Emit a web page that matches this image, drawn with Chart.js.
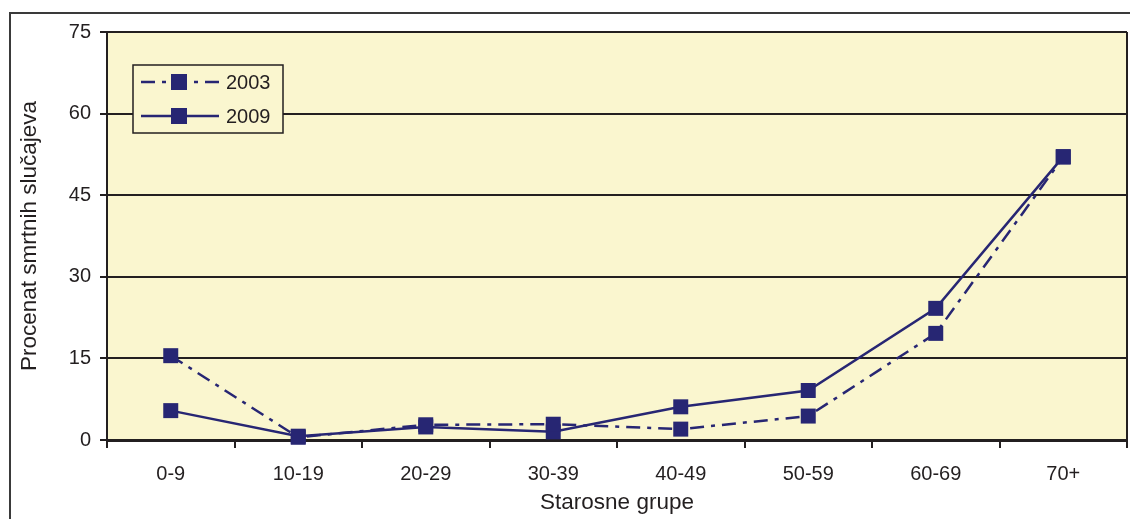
<!DOCTYPE html>
<html>
<head>
<meta charset="utf-8">
<script src="https://cdn.jsdelivr.net/npm/chart.js@4/dist/chart.umd.min.js"></script>
<style>
  html, body { margin: 0; padding: 0; background: #ffffff; }
  #wrap { width: 1130px; height: 519px; position: relative; }
</style>
</head>
<body>
<div id="wrap"><canvas id="c" width="1130" height="519"></canvas></div>
<script>
// Age groups and share of deaths (%) per survey year
const categories = ['0-9', '10-19', '20-29', '30-39', '40-49', '50-59', '60-69', '70+'];
const values2003 = [15.5, 0.5, 2.8, 2.9, 2.0, 4.4, 19.6, 52.0];
const values2009 = [5.4, 0.7, 2.4, 1.5, 6.1, 9.1, 24.2, 52.1];
const seriesNames = ['2003', '2009'];
const yTicks = [0, 15, 30, 45, 60, 75];

const INK = '#231f20';
const NAVY = '#272673';
const PANEL = '#faf6cf';
const FONT = '"Liberation Sans", Arial, sans-serif';
const DASH_2003 = [14, 7, 4, 7];

// Outer frame, panel fill and panel border
const framePlugin = {
  id: 'frame',
  beforeDraw(chart) {
    const { ctx, chartArea: a } = chart;
    ctx.save();
    ctx.fillStyle = PANEL;
    ctx.fillRect(a.left, a.top, a.right - a.left, a.bottom - a.top);
    ctx.strokeStyle = '#3a3a3a';
    ctx.lineWidth = 2;
    ctx.beginPath();
    ctx.moveTo(10, 519);
    ctx.lineTo(10, 13);
    ctx.lineTo(1130, 13);
    ctx.stroke();
    ctx.restore();
  },
  afterDatasetsDraw(chart) {
    const { ctx, chartArea: a } = chart;
    ctx.save();
    ctx.strokeStyle = INK;
    ctx.lineWidth = 2;
    ctx.beginPath();
    ctx.moveTo(a.right, a.top);
    ctx.lineTo(a.right, a.bottom);
    ctx.stroke();
    ctx.restore();
  }
};

// Boxed legend inside the panel
const legendBoxPlugin = {
  id: 'legendBox',
  afterDraw(chart) {
    const { ctx, chartArea: a } = chart;
    const x = a.left + 26, y = a.top + 33, w = 150, h = 68;
    ctx.save();
    ctx.fillStyle = PANEL;
    ctx.fillRect(x, y, w, h);
    ctx.strokeStyle = INK;
    ctx.lineWidth = 1.5;
    ctx.strokeRect(x, y, w, h);
    chart.data.datasets.forEach((ds, i) => {
      const cy = y + 17 + i * 34;
      ctx.strokeStyle = ds.borderColor;
      ctx.lineWidth = ds.borderWidth;
      ctx.setLineDash(ds.borderDash || []);
      ctx.beginPath();
      ctx.moveTo(x + 8, cy);
      ctx.lineTo(x + 86, cy);
      ctx.stroke();
      ctx.setLineDash([]);
      ctx.fillStyle = ds.pointBackgroundColor;
      ctx.fillRect(x + 38, cy - 8, 16, 16);
      ctx.fillStyle = INK;
      ctx.font = '20px ' + FONT;
      ctx.textBaseline = 'middle';
      ctx.textAlign = 'left';
      ctx.fillText(ds.label, x + 93, cy + 1);
    });
    ctx.restore();
  }
};

const makeSeries = (label, data, dash) => ({
  label,
  data,
  borderColor: NAVY,
  backgroundColor: NAVY,
  pointBackgroundColor: NAVY,
  pointBorderColor: NAVY,
  borderWidth: 2.5,
  borderDash: dash,
  pointStyle: 'rect',
  pointRadius: 10.6,
  pointBorderWidth: 0,
  tension: 0,
  clip: false
});

new Chart(document.getElementById('c'), {
  type: 'line',
  data: {
    labels: categories,
    datasets: [
      makeSeries(seriesNames[0], values2003, DASH_2003),
      makeSeries(seriesNames[1], values2009, [])
    ]
  },
  options: {
    responsive: false,
    animation: false,
    devicePixelRatio: 1,
    layout: { autoPadding: false, padding: { left: 0, top: 32, right: 3, bottom: 0 } },
    plugins: { legend: { display: false }, tooltip: { enabled: false } },
    scales: {
      x: {
        type: 'category',
        offset: true,
        grid: { offset: true, drawOnChartArea: false, drawTicks: true, tickLength: 8, color: INK, lineWidth: 2 },
        border: { display: true, color: INK, width: 3 },
        ticks: { color: INK, font: { family: FONT, size: 20 }, padding: 14, maxRotation: 0 },
        title: { display: true, text: 'Starosne grupe', color: INK, font: { family: FONT, size: 22.5 }, padding: { top: 0, bottom: 3 } },
        afterFit(scale) {
          scale.height = 79;
          scale.paddingLeft = 0;
          scale.paddingRight = 0;
        }
      },
      y: {
        min: 0,
        max: 75,
        afterBuildTicks(scale) { scale.ticks = yTicks.map(v => ({ value: v })); },
        grid: { color: INK, lineWidth: 2, tickLength: 7, drawTicks: true },
        border: { display: true, color: INK, width: 2 },
        ticks: { color: INK, font: { family: FONT, size: 20 }, padding: 9 },
        title: { display: true, text: 'Procenat smrtnih slučajeva', color: INK, font: { family: FONT, size: 22.5 }, padding: { top: 16, bottom: 0 } },
        afterFit(scale) {
          scale.width = 107;
          scale.paddingTop = 0;
          scale.paddingBottom = 0;
        }
      }
    }
  },
  plugins: [framePlugin, legendBoxPlugin]
});
</script>
</body>
</html>
